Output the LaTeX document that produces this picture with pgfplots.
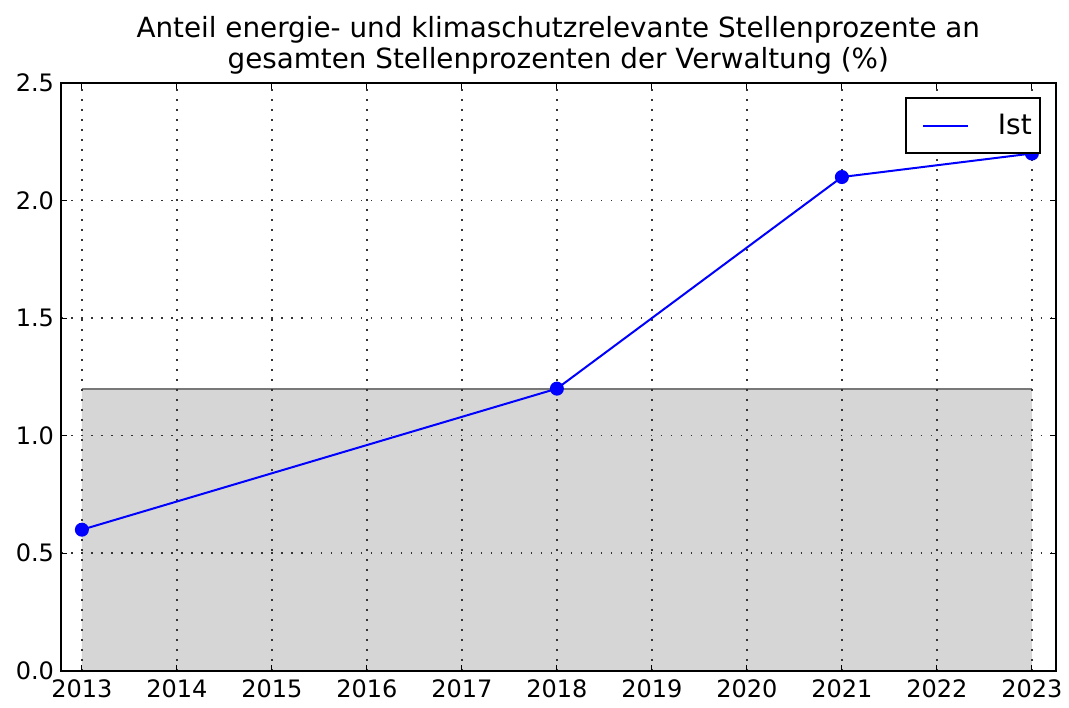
\documentclass[border=0pt]{standalone}
\usepackage{fontspec}
\setmainfont{DejaVu Sans}
\usepackage{pgfplots}
\pgfplotsset{compat=1.18}
\begin{document}
\begin{tikzpicture}
\begin{axis}[
  set layers,
  scale only axis,
  width=497.5pt, height=294pt,
  xmin=2012.78, xmax=2023.25,
  ymin=0, ymax=2.5,
  xtick={2013,...,2023},
  ytick={0,0.5,1,1.5,2,2.5},
  xticklabel style={/pgf/number format/1000 sep={}},
  yticklabel style={/pgf/number format/.cd,fixed,fixed zerofill,precision=1},
  /pgf/number format/assume math mode=true,
  tick align=inside,
  major tick length=3pt,
  tick style={black, line width=0.5pt},
  grid=major,
  major grid style={black!80, line width=0.8pt, dash pattern=on 0.8pt off 4.2pt},
  axis line style={black, line width=0.9pt},
  ticklabel style={font=\fontsize{12}{14}\selectfont},
  xticklabel style={yshift=-1pt},
  title style={font=\fontsize{13.9}{15.5}\selectfont, align=center, yshift=-5pt},
  title={Anteil energie- und klimaschutzrelevante Stellenprozente an\\gesamten Stellenprozenten der Verwaltung (\%)},
  legend style={at={(1,1)}, anchor=north east, xshift=-7.5pt, yshift=-7pt, draw=black, line width=0.9pt, font=\fontsize{14}{16}\selectfont, inner xsep=2pt, inner ysep=4pt, legend cell align=left, nodes={inner xsep=2pt, inner ysep=4pt}},
  legend image code/.code={\path[draw=none, fill=none] (0pt,-5pt) rectangle (42pt,5pt); \draw[#1, line width=1pt] (6.5pt,0pt) -- (29pt,0pt);},
]
\addplot[draw=none, fill={rgb,255:red,214;green,214;blue,214}, forget plot, on layer=axis background] coordinates {(2013,0) (2013,1.2) (2023,1.2) (2023,0)} \closedcycle;
\addplot[draw={rgb,255:red,120;green,120;blue,120}, line width=0.9pt, forget plot, on layer=axis background] coordinates {(2013,1.2) (2023,1.2)};
\addplot[color=blue, line width=1pt, mark=*, mark size=3pt, mark options={fill=blue, draw=blue}] coordinates {
(2013,0.6) (2018,1.2) (2021,2.1) (2023,2.2)
};
\addlegendentry{Ist}
\end{axis}
\useasboundingbox ([xshift=-30.5pt,yshift=-18.5pt]current axis.south west) rectangle ([xshift=6.5pt,yshift=41.5pt]current axis.north east);
\end{tikzpicture}
\end{document}
